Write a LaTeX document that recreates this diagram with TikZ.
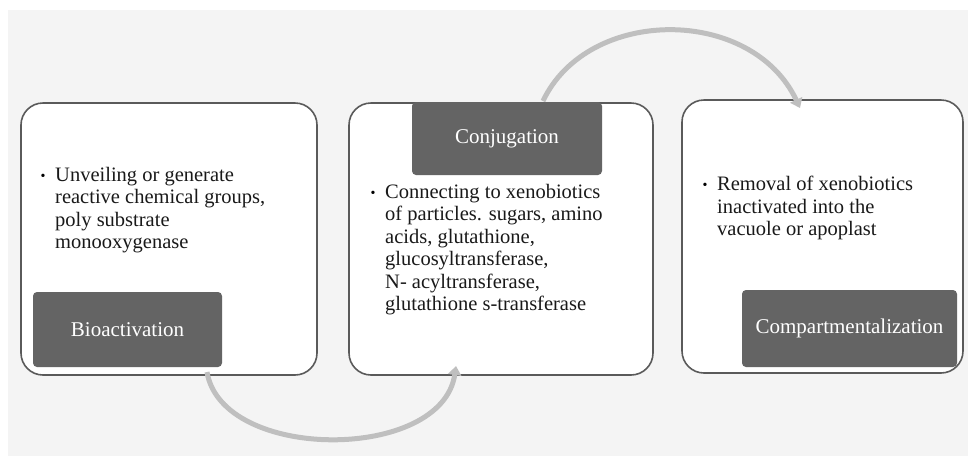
\documentclass[tikz,border=0pt]{standalone}
\usepackage{fontspec}
\setmainfont{Liberation Serif}
\usetikzlibrary{arrows.meta}
\definecolor{bgcol}{HTML}{F4F4F4}
\definecolor{bordercol}{HTML}{5A5A5A}
\definecolor{labelcol}{HTML}{646464}
\definecolor{arccol}{HTML}{BFBFBF}
\tikzset{
  stagebox/.style={draw=bordercol, line width=1.6pt, fill=white, rounded corners=22pt, inner sep=0pt},
  stagelabel/.style={fill=labelcol, rounded corners=4pt, inner sep=0pt, text=white, font=\fontsize{21}{22}\selectfont},
  bodytext/.style={anchor=north west, inner sep=0pt, align=left, font=\fontsize{20.5}{22.5}\selectfont, text=black!90},
  bulletmark/.style={anchor=center, inner sep=0pt, font=\fontsize{14}{14}\selectfont},
  flowarc/.style={draw=arccol, line width=5pt, -{Triangle[length=9pt,width=13pt]}}
}
\begin{document}
\begin{tikzpicture}[x=1pt,y=-1pt]
\useasboundingbox (0,0) rectangle (968,456);
\fill[white] (0,0) rectangle (968,456);
\fill[bgcol] (8,10) rectangle (968,456);

% boxes
\node[stagebox, minimum width=296pt, minimum height=272pt] (b1) at (169,239) {};
\node[stagebox, minimum width=304pt, minimum height=272pt] (b2) at (501,239) {};
\node[stagebox, minimum width=281pt, minimum height=273pt] (b3) at (822.5,236.5) {};

% labels
\node[stagelabel, minimum width=189pt, minimum height=75pt] (l1) at (127.5,329.5) {Bioactivation};
\node[stagelabel, minimum width=190pt, minimum height=73pt] (l2) at (507,138.5) {Conjugation};
\node[stagelabel, minimum width=215pt, minimum height=77pt] (l3) at (849.5,328.5) {Compartmentalization};

% body text
\node[bulletmark] (p1) at (43,177) {\textbullet};
\node[bodytext] (t1) at (55,167) {Unveiling or generate\\reactive chemical groups,\\poly substrate\\monooxygenase};
\node[bulletmark] (p2) at (373,194) {\textbullet};
\node[bodytext] (t2) at (385,184) {Connecting to xenobiotics\\of particles. sugars, amino\\acids, glutathione,\\glucosyltransferase,\\N- acyltransferase,\\glutathione s-transferase};
\node[bulletmark] (p3) at (705,186) {\textbullet};
\node[bodytext] (t3) at (717,176) {Removal of xenobiotics\\inactivated into the\\vacuole or apoplast};

% arcs
\coordinate (a1s) at (543,101);
\coordinate (a1e) at (800,108);
\coordinate (a2s) at (207,372);
\coordinate (a2e) at (456,366);
\draw[flowarc] (a1s) .. controls (588,6) and (752,6) .. (a1e);
\draw[flowarc] (a2s) .. controls (222,462) and (442,462) .. (a2e);
\end{tikzpicture}
\end{document}
